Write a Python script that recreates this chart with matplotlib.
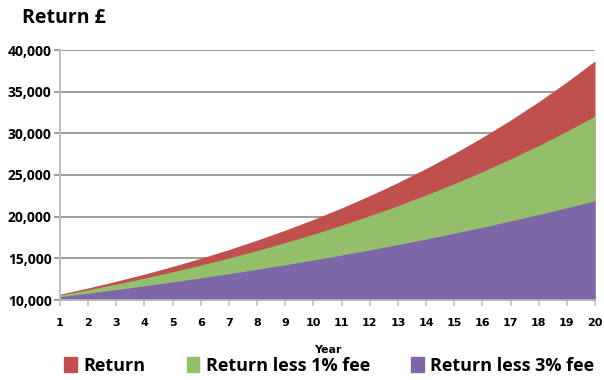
import matplotlib
matplotlib.use('Agg')
import matplotlib.pyplot as plt
from matplotlib.patches import Patch

# data (value of 10,000 over 20 years)
years = list(range(1, 21))
ret = [10700, 11449, 12250, 13108, 14026, 15007, 16058, 17182, 18385, 19672,
       21049, 22522, 24098, 25785, 27590, 29522, 31588, 33799, 36165, 38697]
ret_1pct = [10600, 11236, 11910, 12625, 13382, 14185, 15036, 15938, 16895, 17908,
            18983, 20122, 21329, 22609, 23966, 25404, 26928, 28543, 30256, 32071]
ret_3pct = [10400, 10816, 11249, 11699, 12167, 12653, 13159, 13686, 14233, 14802,
            15395, 16010, 16651, 17317, 18009, 18730, 19479, 20258, 21068, 21911]
labels = ['Return', 'Return less 1% fee', 'Return less 3% fee']
colors = ['#C0504D', '#93BF6A', '#7E67A8']
yticks = [10000, 15000, 20000, 25000, 30000, 35000, 40000]

plt.rcParams['font.family'] = ['Open Sans', 'DejaVu Sans']
narrow = ['Liberation Sans Narrow', 'DejaVu Sans']

fig = plt.figure(figsize=(6.04, 3.8), dpi=100)
ax = fig.add_axes([60 / 604, 1 - 300 / 380, 535 / 604, 250 / 380])

for series, c in zip([ret, ret_1pct, ret_3pct], colors):
    ax.fill_between(years, 10000, series, color=c, lw=0, zorder=2)

ax.set_xlim(1, 20)
ax.set_ylim(10000, 40000)
ax.set_yticks(yticks)
ax.set_yticklabels([f'{v:,}' for v in yticks], fontsize=10, fontweight='bold')
ax.set_xticks(years)
ax.set_xticklabels([str(y) for y in years], fontsize=8, fontweight='bold',
                   family=narrow)
ax.grid(axis='y', color='#8c8c8c', lw=1.2, zorder=1)
ax.tick_params(axis='y', length=4, color='#8c8c8c', width=1.2, pad=2)
ax.tick_params(axis='x', length=4, color='#bfbfbf', width=1.2, pad=9)
for s in ['top', 'right']:
    ax.spines[s].set_visible(False)
ax.spines['left'].set_color('#bfbfbf')
ax.spines['left'].set_linewidth(1.5)
ax.spines['bottom'].set_color('#bfbfbf')
ax.spines['bottom'].set_linewidth(1.2)

ax.set_xlabel('Year', fontsize=8, fontweight='bold', labelpad=12, family=narrow)
fig.text(22 / 604, 1 - 18 / 380, 'Return £', fontsize=14, fontweight='bold',
         va='center', ha='left')

handles = [Patch(color=c, label=l) for c, l in zip(colors, labels)]
fig.legend(handles=handles, loc='center', bbox_to_anchor=(0.545, 1 - 366 / 380),
           ncol=3, frameon=False, prop={'size': 13, 'weight': 'bold'},
           handlelength=0.7, handleheight=0.9, handletextpad=0.35, columnspacing=2.3)

fig.savefig('out.png', dpi=100)
